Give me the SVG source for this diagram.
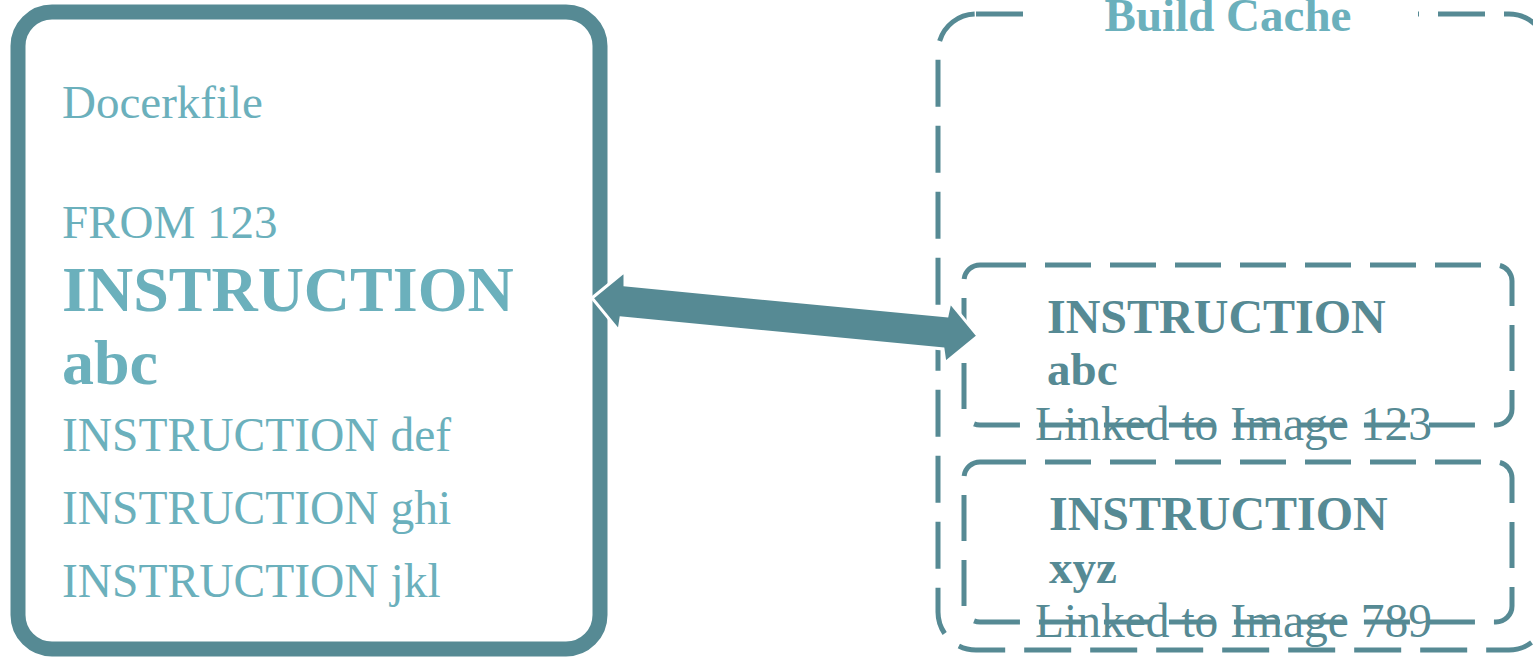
<svg xmlns="http://www.w3.org/2000/svg" width="1533" height="658" viewBox="0 0 1533 658">
<style>
.t{font-family:"Liberation Serif","Times New Roman",serif;}
.light{fill:#6BB0BC;}
.dark{fill:#568A94;}
.b{font-weight:bold;}
.dash{fill:none;stroke:#568A94;stroke-width:5;}
</style>
<rect width="1533" height="658" fill="#ffffff"/>
<g id="dockerfile">
<rect x="18" y="12" width="582" height="637" rx="34" ry="34" fill="#ffffff" stroke="#568A94" stroke-width="15"/>
<text class="t light" x="62" y="118" font-size="47">Docerkfile</text>
<text class="t light" x="62" y="238" font-size="47">FROM 123</text>
<text class="t light b" x="62" y="311" font-size="64">INSTRUCTION</text>
<text class="t light b" x="62" y="384" font-size="64">abc</text>
<text class="t light" x="62" y="451" font-size="47.5">INSTRUCTION def</text>
<text class="t light" x="62" y="524" font-size="47.5">INSTRUCTION ghi</text>
<text class="t light" x="62" y="597" font-size="47.5">INSTRUCTION jkl</text>
</g>
<g id="build-cache">
<rect class="dash" x="938" y="14" width="609" height="636" rx="38" ry="38" stroke-dasharray="47 19"/>
<rect x="1036" y="0" width="382" height="28" fill="#ffffff"/>
<text class="t light b" x="1228" y="31" font-size="47" text-anchor="middle">Build Cache</text>
</g>
<g id="cache-abc">
<rect class="dash" x="964" y="265" width="548" height="160" rx="16" ry="16" stroke-dasharray="46 19"/>
<text class="t dark b" x="1047" y="333" font-size="48">INSTRUCTION</text>
<text class="t dark b" x="1047" y="385" font-size="47">abc</text>
<text class="t dark" x="1035" y="440" font-size="47.5">Linked to Image 123</text>
</g>
<g id="cache-xyz">
<rect class="dash" x="964" y="462" width="548" height="160" rx="16" ry="16" stroke-dasharray="46 19"/>
<text class="t dark b" x="1049" y="530" font-size="48">INSTRUCTION</text>
<text class="t dark b" x="1049" y="583" font-size="47">xyz</text>
<text class="t dark" x="1035" y="637" font-size="47.5">Linked to Image 789</text>
</g>
<g id="connectors">
<polygon points="592,298 625,271 625,285 947,316 950,302 978,336 945,363 943,349 621,318 619,331" fill="#568A94" stroke="#ffffff" stroke-width="3" stroke-linejoin="miter"/>
</g>
</svg>
